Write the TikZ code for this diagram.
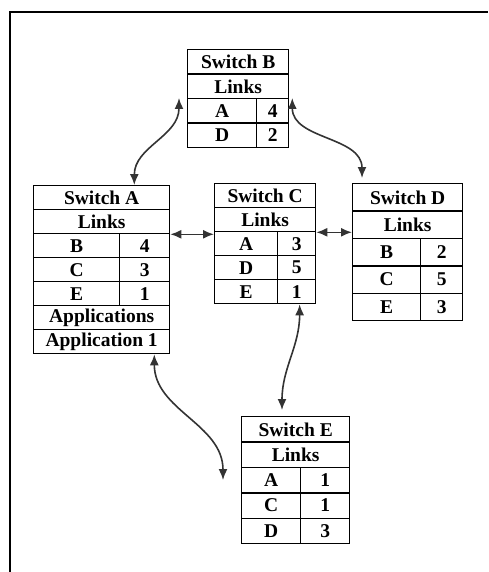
\documentclass[tikz,border=0pt]{standalone}
\usepackage{fontspec}
\setmainfont{Liberation Serif}
\usetikzlibrary{arrows.meta}

\begin{document}
\begin{tikzpicture}[x=1pt,y=-1pt,>={Latex[length=11pt,width=9pt]},
    cell/.style={draw,line width=1.3pt,anchor=north west,inner sep=0pt,
      font=\bfseries\fontsize{19.5}{22}\selectfont},
    link/.style={<->,line width=1.6pt,black!80}]
  \useasboundingbox (0,0) rectangle (488,572);
  % Frame
  \draw[line width=2.5pt] (10,572) -- (10,12) -- (488,12);

  % Switch B
  \node[cell,minimum width=101,minimum height=24.5] (b0) at (187,49) {Switch B};
  \node[cell,minimum width=101,minimum height=24.5] (b1) at (187,73.5) {Links};
  \node[cell,minimum width=69,minimum height=24.5] (b2) at (187,98) {A};
  \node[cell,minimum width=32,minimum height=24.5] (b3) at (256,98) {4};
  \node[cell,minimum width=69,minimum height=24.5] (b4) at (187,122.5) {D};
  \node[cell,minimum width=32,minimum height=24.5] (b5) at (256,122.5) {2};

  % Switch A
  \node[cell,minimum width=136,minimum height=24] (a0) at (33,185) {Switch A};
  \node[cell,minimum width=136,minimum height=24] (a1) at (33,209) {Links};
  \node[cell,minimum width=86,minimum height=24] (a2) at (33,233) {B};
  \node[cell,minimum width=50,minimum height=24] (a3) at (119,233) {4};
  \node[cell,minimum width=86,minimum height=24] (a4) at (33,257) {C};
  \node[cell,minimum width=50,minimum height=24] (a5) at (119,257) {3};
  \node[cell,minimum width=86,minimum height=24] (a6) at (33,281) {E};
  \node[cell,minimum width=50,minimum height=24] (a7) at (119,281) {1};
  \node[cell,minimum width=136,minimum height=24] (a8) at (33,305) {Applications};
  \node[cell,minimum width=136,minimum height=24] (a9) at (33,329) {Application 1};

  % Switch C
  \node[cell,minimum width=101,minimum height=24] (c0) at (214,183) {Switch C};
  \node[cell,minimum width=101,minimum height=24] (c1) at (214,207) {Links};
  \node[cell,minimum width=63,minimum height=24] (c2) at (214,231) {A};
  \node[cell,minimum width=38,minimum height=24] (c3) at (277,231) {3};
  \node[cell,minimum width=63,minimum height=24] (c4) at (214,255) {D};
  \node[cell,minimum width=38,minimum height=24] (c5) at (277,255) {5};
  \node[cell,minimum width=63,minimum height=24] (c6) at (214,279) {E};
  \node[cell,minimum width=38,minimum height=24] (c7) at (277,279) {1};

  % Switch D
  \node[cell,minimum width=110,minimum height=27.4] (d0) at (352,183) {Switch D};
  \node[cell,minimum width=110,minimum height=27.4] (d1) at (352,210.4) {Links};
  \node[cell,minimum width=68,minimum height=27.4] (d2) at (352,237.8) {B};
  \node[cell,minimum width=42,minimum height=27.4] (d3) at (420,237.8) {2};
  \node[cell,minimum width=68,minimum height=27.4] (d4) at (352,265.2) {C};
  \node[cell,minimum width=42,minimum height=27.4] (d5) at (420,265.2) {5};
  \node[cell,minimum width=68,minimum height=27.4] (d6) at (352,292.6) {E};
  \node[cell,minimum width=42,minimum height=27.4] (d7) at (420,292.6) {3};

  % Switch E
  \node[cell,minimum width=108,minimum height=25.4] (e0) at (241,416) {Switch E};
  \node[cell,minimum width=108,minimum height=25.4] (e1) at (241,441.4) {Links};
  \node[cell,minimum width=59,minimum height=25.4] (e2) at (241,466.8) {A};
  \node[cell,minimum width=49,minimum height=25.4] (e3) at (300,466.8) {1};
  \node[cell,minimum width=59,minimum height=25.4] (e4) at (241,492.2) {C};
  \node[cell,minimum width=49,minimum height=25.4] (e5) at (300,492.2) {1};
  \node[cell,minimum width=59,minimum height=25.4] (e6) at (241,517.6) {D};
  \node[cell,minimum width=49,minimum height=25.4] (e7) at (300,517.6) {3};

  \coordinate (ae) at (223,480);

  % Links between switches
  \draw[link] ([xshift=-36]a0.north east) to[out=90,in=-90] ([xshift=-8]b2.north west);
  \draw[link] ([xshift=3]b3.north east) to[out=-90,in=90] ([xshift=10,yshift=5]d0.north west);
  \draw[link] (a1.south east) -- (a1.south east -| c1.west);
  \draw[link] (c1.south east) -- (c1.south east -| d0.west);
  \draw[link] ([xshift=3]c7.south) to[out=-90,in=90] ([xshift=41,yshift=6]e0.north west);
  \draw[link] ([xshift=-16]a9.south east) to[out=-90,in=90] (ae);

\end{tikzpicture}
\end{document}
